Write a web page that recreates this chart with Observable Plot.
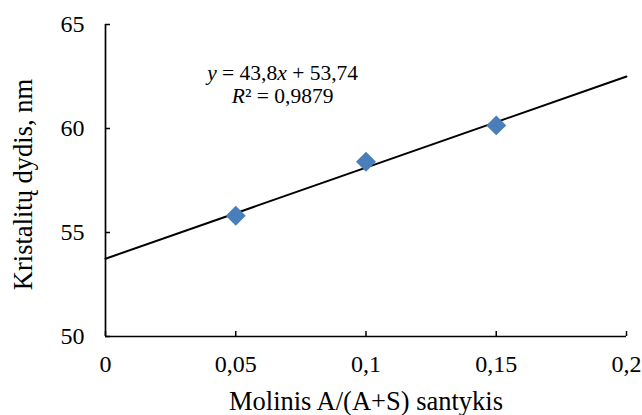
<!DOCTYPE html>
<html>
<head>
<meta charset="utf-8">
<script src="https://cdn.jsdelivr.net/npm/d3@7"></script>
<script src="https://cdn.jsdelivr.net/npm/@observablehq/plot@0.6"></script>
<style>
  html, body { margin: 0; padding: 0; background: #fff; }
</style>
</head>
<body>
<div id="chart"></div>
<script>
const ratio = [0.05, 0.10, 0.15];
const size = [55.8, 58.4, 60.15];
const xTicks = [0, 0.05, 0.1, 0.15, 0.2];
const yTicks = [50, 55, 60, 65];
const slope = 43.8;
const intercept = 53.74;
const eqLines = ["y = 43,8x + 53,74", "R² = 0,9879"];
const xTitle = "Molinis A/(A+S) santykis";
const yTitle = "Kristalitų dydis, nm";

const points = ratio.map((x, i) => ({x, y: size[i]}));
const trend = [0, 0.2].map(x => ({x, y: slope * x + intercept}));
const comma = d => String(d).replace(".", ",");
const SERIF = "'Liberation Serif', 'DejaVu Serif', serif";

const chart = Plot.plot({
  width: 642,
  height: 415,
  marginLeft: 105,
  marginRight: 16,
  marginTop: 24,
  marginBottom: 79,
  style: {fontFamily: SERIF, fontSize: "24px", color: "#000", background: "#fff"},
  x: {domain: [0, 0.2]},
  y: {domain: [50, 65]},
  marks: [
    Plot.axisX({ticks: xTicks, tickFormat: comma, tickSize: 0, tickPadding: 18, fontSize: 24, label: null}),
    Plot.axisY({ticks: yTicks, tickSize: 0, tickPadding: 21, fontSize: 24, label: null}),
    Plot.text([xTitle], {frameAnchor: "bottom", text: d => d, dy: 73, lineAnchor: "bottom", textAnchor: "middle", fontSize: 26.5}),
    Plot.text([yTitle], {frameAnchor: "left", text: d => d, rotate: -90, dx: -81.5, dy: 4, lineAnchor: "middle", textAnchor: "middle", fontSize: 26.5}),
    Plot.ruleX(xTicks, {y1: 50, y2: 50 + 5 / 20.75, stroke: "#000", strokeWidth: 1.5}),
    Plot.ruleY(yTicks, {x1: 0, x2: 0.2 * 5 / 521, stroke: "#000", strokeWidth: 1.5}),
    Plot.ruleX([0], {stroke: "#000", strokeWidth: 1.7}),
    Plot.ruleY([50], {stroke: "#000", strokeWidth: 1.7}),
    Plot.line(trend, {x: "x", y: "y", stroke: "#000", strokeWidth: 2}),
    Plot.dot(points, {x: "x", y: "y", symbol: "diamond2", r: 9, fill: "#4a7ebb", stroke: "none"}),
    Plot.text([eqLines.join("\n")], {x: 0.068, y: 62.13, text: d => d, fontSize: 21.5, lineHeight: 1.08, textAnchor: "middle", className: "eq"})
  ]
});
document.getElementById("chart").appendChild(chart);

chart.querySelectorAll("text, g").forEach(n => { n.style.fontFamily = SERIF; });

// italicize the variable letters of the equation (runs of characters)
const ital = new Set(["y", "x", "R"]);
chart.querySelectorAll(".eq text tspan, .eq text").forEach(node => {
  if (node.children.length) return;
  const s = node.textContent;
  const runs = [];
  for (const ch of s) {
    const it = ital.has(ch);
    if (runs.length && runs[runs.length - 1].it === it) runs[runs.length - 1].s += ch;
    else runs.push({s: ch, it});
  }
  node.textContent = "";
  for (const r of runs) {
    const t = document.createElementNS("http://www.w3.org/2000/svg", "tspan");
    t.textContent = r.s;
    if (r.it) t.setAttribute("font-style", "italic");
    node.appendChild(t);
  }
});
</script>
</body>
</html>
